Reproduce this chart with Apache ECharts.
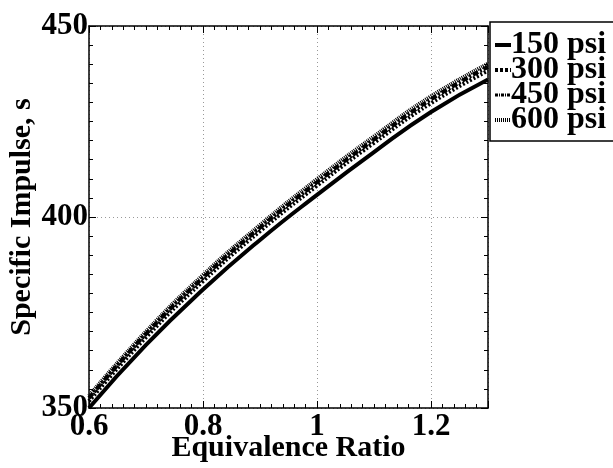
<!DOCTYPE html>
<html><head><meta charset="utf-8">
<script src="https://cdn.jsdelivr.net/npm/echarts@6/dist/echarts.min.js"></script>
<style>html,body{margin:0;padding:0;background:#fff}#c{width:613px;height:468px}</style>
</head><body><div id="c"></div>
<script>
const ratio = [0.6, 0.7, 0.8, 0.9, 1.0, 1.1, 1.2, 1.3];
const isp150 = [350, 366.5, 381, 394, 405.8, 417, 427.5, 436];
const isp300 = [351.8, 368.5, 383.2, 396.3, 408.2, 419.4, 429.8, 438.3];
const isp450 = [352.6, 369.4, 384.1, 397.2, 409.1, 420.3, 430.8, 439.3];
const isp600 = [353.2, 370, 384.8, 397.9, 409.9, 421.1, 431.6, 440.1];
const names = ['150 psi', '300 psi', '450 psi', '600 psi'];
const F = 'Liberation Serif';
const chart = echarts.init(document.getElementById('c'));
function pts(v){ return ratio.map((x,i)=>[x, v[i]]); }
const styles = [
  {type:'solid', width:4},
  {type:[2,2], width:4},
  {type:[6,2,2,2], width:4},
  {type:[1,1], width:4}
];
const legendStyles = [
  {type:'solid', width:4},
  {type:[3,2], width:4},
  {type:[3,1,1,1], width:3},
  {type:[1,1], width:4}
];
const data = [isp150, isp300, isp450, isp600];
const axisCommon = {
  axisLine:{show:true, onZero:false, lineStyle:{color:'#000', width:1.5}},
  axisTick:{show:true, inside:true, length:7, lineStyle:{color:'#000'}},
  minorTick:{show:true, splitNumber:10, length:4, lineStyle:{color:'#000'}},
};
chart.setOption({
  animation:false,
  grid:{left:89, right:125, top:26, bottom:60, containLabel:false, outerBoundsMode:'none'},
  legend:{
    data:names.map((n,i)=>({name:n, itemStyle:{opacity:0},
      lineStyle:{color:'#000', width:legendStyles[i].width, type:legendStyles[i].type}})),
    orient:'vertical', left:490, top:22,
    backgroundColor:'#fff', borderColor:'#000', borderWidth:1.5,
    padding:[7,20,5,3], itemGap:-7, itemWidth:16, itemHeight:8,
    textStyle:{fontFamily:F, fontWeight:'bold', fontSize:32, color:'#000', padding:[0,0,0,-5]}
  },
  xAxis:[
    Object.assign({type:'value', min:0.6, max:1.3, interval:0.2,
      name:'Equivalence Ratio', nameLocation:'middle', nameGap:25, nameMoveOverlap:false,
      nameTextStyle:{fontFamily:F, fontWeight:'bold', fontSize:30, color:'#000'},
      axisLabel:{fontFamily:F, fontWeight:'bold', fontSize:31, color:'#000', margin:6, showMaxLabel:false, lineHeight:26},
      splitLine:{show:true, lineStyle:{color:'#999', type:[1,3], width:1}}
    }, axisCommon),
    Object.assign({type:'value', position:'top', min:0.6, max:1.3, interval:0.2,
      axisLabel:{show:false}, splitLine:{show:false}}, axisCommon)
  ],
  yAxis:[
    Object.assign({type:'value', min:350, max:450, interval:50,
      name:'Specific Impulse, s', nameLocation:'middle', nameGap:52, nameRotate:90, nameMoveOverlap:false,
      nameTextStyle:{fontFamily:F, fontWeight:'bold', fontSize:30, color:'#000'},
      axisLabel:{fontFamily:F, fontWeight:'bold', fontSize:31, color:'#000', margin:1},
      splitLine:{show:true, lineStyle:{color:'#999', type:[1,3], width:1}}
    }, axisCommon),
    Object.assign({type:'value', position:'right', min:350, max:450, interval:50,
      axisLabel:{show:false}, splitLine:{show:false}}, axisCommon)
  ],
  series: data.map((d,i)=>({
    name:names[i], type:'line', data:pts(d), smooth:true, symbol:'none',
    clip:true,
    lineStyle:{color:'#000', width:styles[i].width, type:styles[i].type},
    itemStyle:{color:'#000'}
  }))
});
</script></body></html>
